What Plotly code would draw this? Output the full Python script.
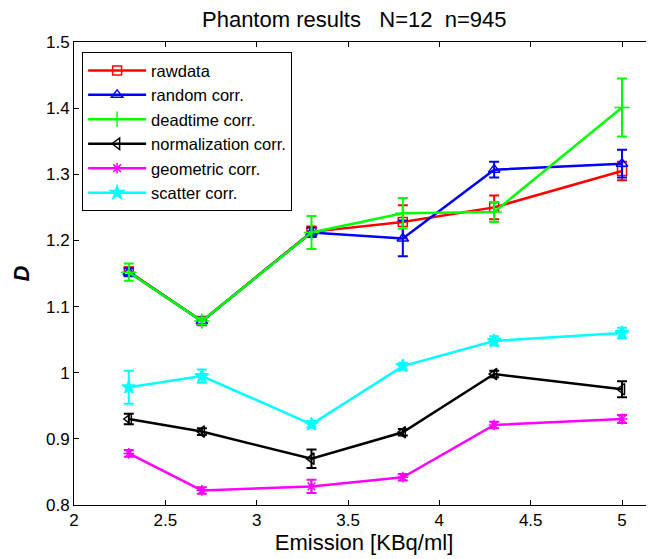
import plotly.graph_objects as go

x = [2.3, 2.7, 3.3, 3.8, 4.3, 5.0]

names = ["rawdata", "random corr.", "deadtime corr.", "normalization corr.", "geometric corr.", "scatter corr."]

raw = [1.153, 1.078, 1.213, 1.228, 1.250, 1.305]
raw_err = [0.006, 0.005, 0.008, 0.025, 0.018, 0.014]

rnd = [1.152, 1.078, 1.212, 1.203, 1.307, 1.316]
rnd_err = [0.006, 0.005, 0.007, 0.027, 0.012, 0.021]

dead = [1.152, 1.078, 1.212, 1.241, 1.243, 1.401]
dead_err = [0.013, 0.005, 0.025, 0.023, 0.015, 0.044]

norm = [0.930, 0.911, 0.870, 0.910, 0.998, 0.975]
norm_err = [0.008, 0.005, 0.014, 0.005, 0.005, 0.012]

geom = [0.878, 0.822, 0.828, 0.842, 0.921, 0.930]
geom_err = [0.005, 0.005, 0.010, 0.005, 0.005, 0.006]

scat = [0.978, 0.995, 0.922, 1.010, 1.048, 1.060]
scat_err = [0.025, 0.010, 0.005, 0.005, 0.007, 0.008]

xticks = [2, 2.5, 3, 3.5, 4, 4.5, 5]
xtick_labels = ["2", "2.5", "3", "3.5", "4", "4.5", "5"]
yticks = [0.8, 0.9, 1.0, 1.1, 1.2, 1.3, 1.4, 1.5]
ytick_labels = ["0.8", "0.9", "1", "1.1", "1.2", "1.3", "1.4", "1.5"]

series = [
    (raw, raw_err, "#ff0000", "square-open", 9),
    (rnd, rnd_err, "#0000ff", "triangle-up-open", 10),
    (dead, dead_err, "#00ff00", "cross-thin-open", 11),
    (norm, norm_err, "#000000", "triangle-left-open", 10),
    (geom, geom_err, "#ff00ff", "asterisk-open", 9),
    (scat, scat_err, "#00ffff", "star", 10),
]

fig = go.Figure()
for name, (vals, errs, col, sym, sz) in zip(names, series):
    fig.add_trace(go.Scatter(
        x=x, y=vals, name=name, mode="lines+markers",
        line=dict(color=col, width=2.5),
        marker=dict(symbol=sym, size=sz, color=col, line=dict(color=col, width=1.5)),
        error_y=dict(type="data", array=errs, visible=True, color=col, thickness=2, width=5),
    ))

font = "Liberation Sans, Arial, sans-serif"
# page body has an 8px margin, so the figure is sized 646x551
fig.update_layout(
    width=646, height=551,
    margin=dict(l=66, r=0, t=34, b=54, autoexpand=False),
    paper_bgcolor="white", plot_bgcolor="white",
    font=dict(family=font, size=17, color="black"),
    title=dict(text="Phantom results\u00a0\u00a0\u00a0N=12\u00a0\u00a0n=945", x=0.536, xanchor="center",
               y=0.979, yanchor="middle", font=dict(size=22, family=font, color="black")),
    showlegend=True,
    legend=dict(x=0.014, y=0.978, xanchor="left", yanchor="top",
                bgcolor="white", bordercolor="black", borderwidth=1,
                font=dict(size=16.5, family=font), tracegroupgap=0, itemwidth=58),
)
fig.update_xaxes(range=[2, 5.175], tickvals=xticks, ticktext=xtick_labels, automargin=False,
                 ticks="inside", ticklen=5, tickcolor="black", showline=True, linecolor="black",
                 linewidth=1, mirror="ticks", showgrid=False, zeroline=False,
                 title=dict(text="Emission [KBq/ml]", font=dict(size=22), standoff=4))
fig.update_yaxes(range=[0.8, 1.5], tickvals=yticks, ticktext=ytick_labels, automargin=False,
                 ticks="inside", ticklen=5, tickcolor="black", showline=True, linecolor="black",
                 linewidth=1, mirror="ticks", showgrid=False, zeroline=False,
                 title=dict(text="<b><i>D</i></b>", font=dict(size=22), standoff=10))

fig.write_html("out.html")
